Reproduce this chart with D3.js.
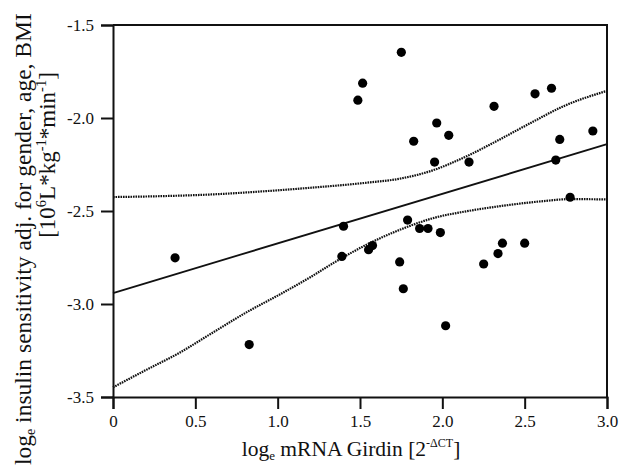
<!DOCTYPE html>
<html>
<head>
<meta charset="utf-8">
<script src="https://cdn.jsdelivr.net/npm/d3@7"></script>
<style>
  body { margin: 0; background: #fff; }
  text { font-family: "Liberation Serif", "Times New Roman", serif; fill: #111; }
</style>
</head>
<body>
<svg id="chart" width="619" height="466"></svg>
<script>
// scatter points: log mRNA Girdin vs adjusted insulin sensitivity
const girdin = [0.377, 0.827, 1.390, 1.400, 1.487, 1.516, 1.552, 1.576, 1.741, 1.751, 1.763,
  1.789, 1.826, 1.862, 1.913, 1.953, 1.966, 1.988, 2.020, 2.039, 2.162, 2.251, 2.314, 2.338,
  2.365, 2.500, 2.563, 2.663, 2.689, 2.713, 2.776, 2.914];
const insulin = [-2.752, -3.218, -2.744, -2.582, -1.904, -1.813, -2.708, -2.686, -2.774, -1.647, -2.918,
  -2.549, -2.125, -2.594, -2.594, -2.237, -2.027, -2.616, -3.117, -2.093, -2.237, -2.785, -1.937, -2.729,
  -2.673, -2.673, -1.870, -1.840, -2.226, -2.115, -2.426, -2.070];

// regression line end points
const fitLine = [[0, -2.941], [3.0, -2.141]];

// confidence bands
const upperBand = [[0, -2.425], [0.3, -2.42], [0.6, -2.411], [0.9, -2.395], [1.2, -2.375], [1.54, -2.348],
  [1.75, -2.325], [1.93, -2.285], [2.13, -2.213], [2.33, -2.124], [2.54, -2.025], [2.74, -1.935], [3.0, -1.854]];
const lowerBand = [[0, -3.448], [0.2, -3.355], [0.4, -3.264], [0.6, -3.157], [0.81, -3.045], [1.01, -2.95],
  [1.2, -2.855], [1.34, -2.779], [1.54, -2.681], [1.745, -2.60], [1.95, -2.537], [2.15, -2.501],
  [2.35, -2.474], [2.6, -2.448], [2.78, -2.436], [3.0, -2.438]];

const xTicks = [0, 0.5, 1.0, 1.5, 2.0, 2.5, 3.0];
const yTicks = [-1.5, -2.0, -2.5, -3.0, -3.5];

const svg = d3.select('#chart');
const plotLeft = 113, plotRight = 607, plotTop = 25, plotBottom = 397;

const x = d3.scaleLinear().domain([0, 3]).range([plotLeft, plotRight]);
const y = d3.scaleLinear().domain([-3.5, -1.5]).range([plotBottom, plotTop]);

// frame (top and right)
svg.append('path')
  .attr('d', `M${plotLeft},${plotTop}H${plotRight}V${plotBottom}`)
  .attr('fill', 'none').attr('stroke', '#111').attr('stroke-width', 2);

// axes
const xAxis = svg.append('g')
  .attr('transform', `translate(0,${plotBottom})`)
  .call(d3.axisBottom(x).tickValues(xTicks).tickSize(12).tickPadding(6)
    .tickFormat(d => d === 0 ? '0' : d.toFixed(1)));
const yAxis = svg.append('g')
  .attr('transform', `translate(${plotLeft},0)`)
  .call(d3.axisLeft(y).tickValues(yTicks).tickSize(12).tickPadding(7)
    .tickFormat(d => d.toFixed(1)));

[xAxis, yAxis].forEach(g => {
  g.select('.domain').attr('stroke', '#111').attr('stroke-width', 2);
  g.selectAll('.tick line').attr('stroke', '#111').attr('stroke-width', 2);
  g.selectAll('.tick text').attr('font-size', 17).attr('fill', '#111')
    .style('font-family', '"Liberation Serif", serif');
});

// confidence bands
const line = d3.line().x(d => x(d[0])).y(d => y(d[1])).curve(d3.curveMonotoneX);
[upperBand, lowerBand].forEach(band => {
  svg.append('path')
    .attr('d', line(band))
    .attr('fill', 'none')
    .attr('stroke', '#111')
    .attr('stroke-width', 2.2)
    .attr('stroke-dasharray', '1.6,0.9');
});

// regression line
svg.append('path')
  .attr('d', d3.line().x(d => x(d[0])).y(d => y(d[1]))(fitLine))
  .attr('fill', 'none').attr('stroke', '#111').attr('stroke-width', 1.8);

// points
svg.append('g').selectAll('circle')
  .data(girdin.map((g, i) => [g, insulin[i]]))
  .enter().append('circle')
  .attr('cx', d => x(d[0]))
  .attr('cy', d => y(d[1]))
  .attr('r', 4.6)
  .attr('fill', '#000');

// x axis title
const xt = svg.append('text')
  .attr('x', 351).attr('y', 456)
  .attr('text-anchor', 'middle')
  .attr('font-size', 21.5);
xt.append('tspan').text('log');
xt.append('tspan').attr('font-size', 13).attr('dy', 4).text('e');
xt.append('tspan').attr('dy', -4).text(' mRNA Girdin [2');
xt.append('tspan').attr('font-size', 12).attr('dy', -9).text('-\u0394CT');
xt.append('tspan').attr('dy', 9).text(']');

// y axis title, two lines
const yt1 = svg.append('text')
  .attr('transform', 'translate(31,465) rotate(-90)')
  .attr('text-anchor', 'start')
  .attr('font-size', 23.5);
yt1.append('tspan').text('log');
yt1.append('tspan').attr('font-size', 14).attr('dy', 4).text('e');
yt1.append('tspan').attr('dy', -4).text(' insulin sensitivity adj. for gender, age, BMI');

const yt2 = svg.append('text')
  .attr('transform', 'translate(55,155) rotate(-90)')
  .attr('text-anchor', 'middle')
  .attr('font-size', 23);
yt2.append('tspan').text('[10');
yt2.append('tspan').attr('font-size', 14.5).attr('dy', -9).text('6');
yt2.append('tspan').attr('dy', 9).text('L*kg');
yt2.append('tspan').attr('font-size', 14.5).attr('dy', -9).text('-1');
yt2.append('tspan').attr('dy', 9).text('*min');
yt2.append('tspan').attr('font-size', 14.5).attr('dy', -9).text('-1');
yt2.append('tspan').attr('dy', 9).text(']');
</script>
</body>
</html>
